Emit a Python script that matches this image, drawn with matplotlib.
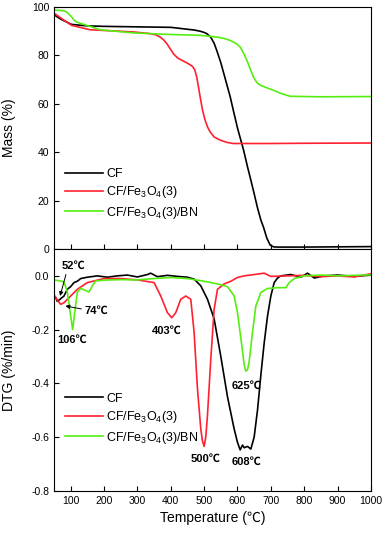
import matplotlib
matplotlib.use('Agg')
import matplotlib.pyplot as plt

plt.rcParams['font.family'] = ['Liberation Sans', 'Noto Sans CJK SC', 'DejaVu Sans']
plt.rcParams['mathtext.fontset'] = 'custom'
plt.rcParams['mathtext.rm'] = 'Liberation Sans'

# TGA 곡선 (온도, 질량 %)
tga_cf_t = [50, 70, 103, 150, 200, 300, 400, 438, 450, 470, 488, 500, 508, 520, 530, 538, 550, 560, 568, 578, 588,
            600, 610, 618, 630, 640, 648, 660, 670, 678, 688, 698, 708, 718, 800, 900, 1000]
tga_cf_m = [96.8, 95.0, 92.8, 92.2, 92.0, 91.8, 91.6, 91.0, 90.8, 90.5, 90.0, 89.5, 89.0, 87.5, 85.0, 82.0, 77.0, 72.0, 68.0, 63.0, 57.0,
            50.0, 45.0, 41.0, 34.0, 28.5, 24.0, 17.0, 12.0, 9.0, 4.5, 1.6, 0.9, 0.8, 0.8, 0.9, 1.0]

tga_fe_t = [50, 70, 103, 158, 288, 338, 355, 368, 378, 388, 398, 408, 420, 433, 450, 465, 472, 478, 483, 488, 495,
            503, 510, 518, 530, 548, 570, 588, 700, 800, 1000]
tga_fe_m = [97.5, 95.5, 92.4, 90.6, 89.7, 89.0, 88.5, 87.6, 86.5, 84.9, 82.8, 80.7, 79.0, 78.0, 76.8, 75.5, 74.0, 71.0, 67.0, 62.9, 57.5,
            53.2, 50.5, 48.4, 46.3, 45.0, 44.0, 43.6, 43.6, 43.7, 43.8]

tga_bn_t = [50, 80, 88, 95, 103, 110, 118, 135, 158, 188, 288, 388, 488, 538, 560, 578, 595, 608, 618, 628, 638,
            648, 658, 668, 690, 708, 730, 758, 850, 1000]
tga_bn_m = [98.8, 98.4, 98.0, 97.0, 95.9, 94.6, 93.8, 93.0, 92.0, 90.6, 89.3, 88.7, 88.3, 87.6, 87.0, 86.2, 85.0, 83.5, 81.0, 78.0, 74.5,
            71.0, 68.8, 67.7, 66.5, 65.6, 64.3, 63.1, 62.9, 63.0]

# DTG 곡선 (온도, %/min)
dtg_cf_t = [50, 55, 60, 65, 70, 80, 90, 100, 110, 120, 130, 150, 180, 210, 240, 270, 300, 330, 340, 360, 390, 420, 450,
            470, 490, 510, 530, 550, 570, 590, 600, 608, 615, 620, 630, 640, 650, 660, 670, 680, 690, 700, 710, 720, 730,
            760, 790, 810, 830, 860, 900, 950, 1000]
dtg_cf_v = [-0.085, -0.08, -0.095, -0.09, -0.085, -0.075, -0.05, -0.04, -0.025, -0.02, -0.01, -0.005, 0.0, -0.005, 0.0, 0.003, -0.004, 0.005, 0.01, -0.003, 0.002, -0.002, -0.005,
            -0.012, -0.037, -0.087, -0.16, -0.3, -0.45, -0.57, -0.62, -0.648, -0.63, -0.64, -0.635, -0.645, -0.6, -0.5, -0.37, -0.25, -0.15, -0.075, -0.025, -0.008, 0.0,
            0.005, -0.005, 0.01, -0.008, 0.0, 0.003, -0.002, 0.003]

dtg_fe_t = [50, 60, 70, 80, 100, 120, 150, 200, 250, 300, 350, 370, 390, 403, 415, 430, 445, 460, 470, 480, 490, 495, 500,
            505, 510, 520, 530, 540, 560, 580, 600, 620, 650, 680, 700, 750, 800, 850, 900, 950, 1000]
dtg_fe_v = [-0.07, -0.09, -0.106, -0.1, -0.075, -0.05, -0.025, -0.01, -0.01, -0.015, -0.025, -0.075, -0.137, -0.156, -0.137, -0.087, -0.075, -0.087, -0.21, -0.42, -0.57, -0.615, -0.635,
            -0.6, -0.52, -0.31, -0.125, -0.05, -0.03, -0.02, -0.006, 0.0, 0.005, 0.01, -0.002, 0.0, 0.002, -0.003, 0.0, -0.004, 0.008]

dtg_bn_t = [50, 65, 80, 90, 100, 106, 112, 120, 130, 140, 155, 165, 175, 200, 250, 300, 350, 400, 450, 500, 540, 570,
            590, 600, 612, 620, 625, 630, 635, 645, 655, 670, 690, 720, 745, 755, 770, 800, 850, 900, 950, 1000]
dtg_bn_v = [-0.015, -0.018, -0.022, -0.06, -0.15, -0.2, -0.137, -0.06, -0.047, -0.052, -0.06, -0.037, -0.019, -0.016, -0.014, -0.015, -0.01, -0.006, -0.01, -0.02, -0.03, -0.04,
            -0.075, -0.137, -0.25, -0.33, -0.355, -0.35, -0.32, -0.21, -0.112, -0.062, -0.047, -0.044, -0.044, -0.025, -0.01, 0.0, 0.003, 0.0, 0.002, 0.004]

labels = ['CF', r'CF/Fe$_3$O$_4$(3)', r'CF/Fe$_3$O$_4$(3)/BN']
colors = ['black', '#ff2030', '#55ee11']

peaks = [('52℃', 107, 0.036), ('74℃', 177, -0.131), ('106℃', 103, -0.237), ('403℃', 388, -0.206),
         ('500℃', 503, -0.683), ('608℃', 626, -0.694), ('625℃', 628, -0.41)]

fig = plt.figure(figsize=(3.87, 5.39), dpi=100)
ax1 = fig.add_axes([0.1395, 0.538, 0.819, 0.449])
ax2 = fig.add_axes([0.1395, 0.0896, 0.819, 0.4484])

for t, m, lab, c in zip([tga_cf_t, tga_fe_t, tga_bn_t], [tga_cf_m, tga_fe_m, tga_bn_m], labels, colors):
    ax1.plot(t, m, color=c, lw=1.2, label=lab)
for t, v, lab, c in zip([dtg_cf_t, dtg_fe_t, dtg_bn_t], [dtg_cf_v, dtg_fe_v, dtg_bn_v], labels, colors):
    ax2.plot(t, v, color=c, lw=1.2, label=lab)

ax1.set_xlim(50, 1000)
ax1.set_ylim(0, 100)
ax1.set_yticks([0, 20, 40, 60, 80, 100])
ax1.set_xticks(range(100, 1001, 100))
ax1.tick_params(axis='x', labelbottom=False)
ax1.set_ylabel('Mass (%)', fontsize=10)

ax2.set_xlim(50, 1000)
ax2.set_ylim(-0.8, 0.1)
ax2.set_yticks([-0.8, -0.6, -0.4, -0.2, 0.0])
ax2.set_yticklabels(['-0.8', '-0.6', '-0.4', '-0.2', '0.0'])
ax2.set_xticks(range(100, 1001, 100))
ax2.set_ylabel('DTG (%/min)', fontsize=10)
ax2.set_xlabel('Temperature (℃)', fontsize=10)

for ax, yb in ((ax1, 0.07), (ax2, 0.14)):
    ax.tick_params(direction='in', labelsize=7.5, length=3.5, width=0.8)
    ax.yaxis.set_label_coords(-0.12, 0.5)
    for s in ax.spines.values():
        s.set_linewidth(0.8)
    ax.legend(loc='lower left', bbox_to_anchor=(0.0, yb), frameon=False, fontsize=9,
              handlelength=3.0, handletextpad=0.3, labelspacing=0.35)

for txt, x, y in peaks:
    ax2.text(x, y, txt, fontsize=8, fontweight='bold', ha='center', va='center')

ax2.annotate('', xy=(66, -0.085), xytext=(88, 0.015),
             arrowprops=dict(arrowstyle='-|>', color='black', lw=0.7, mutation_scale=6))
ax2.annotate('', xy=(76, -0.11), xytext=(140, -0.125),
             arrowprops=dict(arrowstyle='-|>', color='black', lw=0.7, mutation_scale=6))

fig.savefig('out.png', dpi=100)
